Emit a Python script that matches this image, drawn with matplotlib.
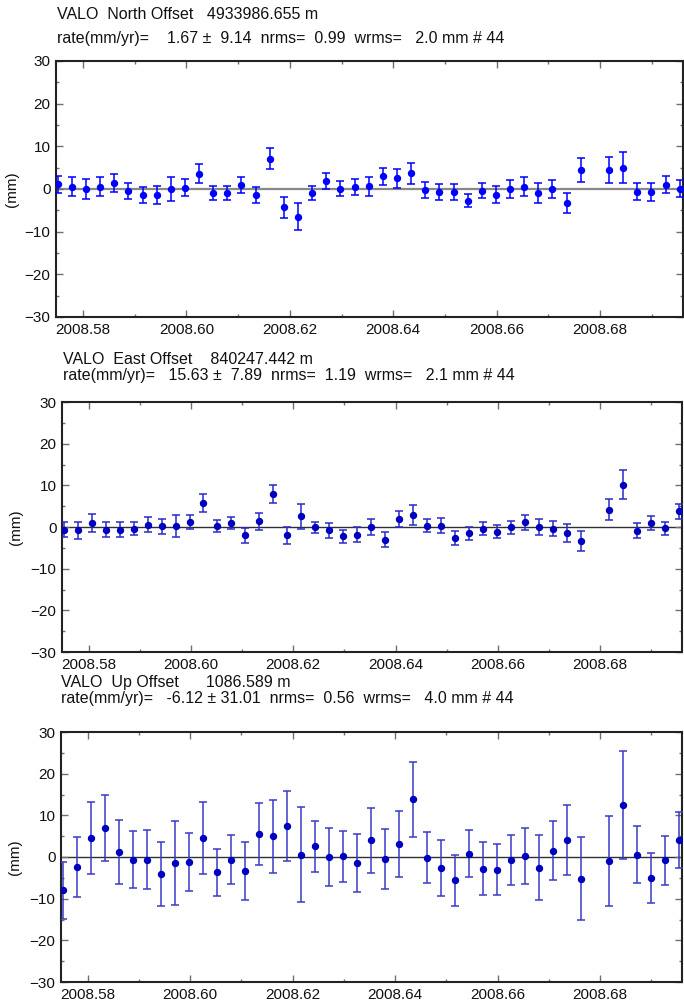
import numpy as np
import matplotlib
matplotlib.use("Agg")
import matplotlib.pyplot as plt
from matplotlib.ticker import MultipleLocator, FormatStrFormatter

plt.rcParams["font.family"] = ["Liberation Sans", "DejaVu Sans"]

# --------------------------------------------------
# DATA
# --------------------------------------------------
# day of year 2008 for each daily solution (day 249 missing)
doy = [211, 212, 213, 214, 215, 216, 217, 218, 219, 220,
       221, 222, 223, 224, 225, 226, 227, 228, 229, 230,
       231, 232, 233, 234, 235, 236, 237, 238, 239, 240,
       241, 242, 243, 244, 245, 246, 247, 248, 250, 251,
       252, 253, 254, 255]

north = [1.1, 0.5, 0.0, 0.5, 1.5, -0.5, -1.4, -1.4, 0.0, 0.3,
         3.6, -0.9, -0.9, 0.9, -1.4, 7.1, -4.3, -6.5, -0.9, 1.8,
         0.1, 0.5, 0.6, 3.0, 2.5, 3.7, -0.2, -0.7, -0.7, -2.7,
         -0.4, -1.3, 0.0, 0.5, -0.9, 0.0, -3.3, 4.4, 4.5, 5.0,
         -0.6, -0.7, 1.0, 0.1]
north_err = [1.95, 2.2, 2.3, 2.2, 2.1, 1.9, 1.95, 2.0, 2.7, 2.0,
             2.3, 1.6, 1.6, 1.95, 1.95, 2.5, 2.4, 3.2, 1.6, 1.9,
             1.8, 1.95, 2.2, 1.95, 2.2, 2.5, 1.8, 1.95, 1.9, 1.6,
             1.8, 1.9, 2.0, 2.2, 2.3, 2.0, 2.4, 2.8, 3.1, 3.7,
             2.0, 2.1, 1.95, 2.0]

east = [-0.6, -0.8, 1.0, -0.6, -0.7, -0.4, 0.6, 0.2, 0.2, 1.2,
        5.7, 0.2, 1.0, -2.0, 1.4, 7.9, -2.0, 2.6, -0.1, -0.8,
        -2.2, -1.8, 0.0, -3.0, 1.9, 3.0, 0.3, 0.3, -2.6, -1.5,
        -0.4, -1.1, -0.1, 1.2, 0.1, -0.4, -1.4, -3.4, 4.2, 10.2,
        -0.9, 0.9, -0.3, 3.8]
east_err = [1.8, 2.1, 2.2, 1.9, 1.8, 1.6, 1.8, 1.8, 2.6, 1.7,
            2.2, 1.4, 1.5, 1.8, 2.0, 2.2, 2.1, 3.0, 1.4, 1.8,
            1.6, 1.75, 1.9, 1.75, 2.0, 2.4, 1.6, 1.8, 1.7, 1.5,
            1.6, 1.6, 1.5, 1.8, 1.9, 1.8, 2.1, 2.4, 2.6, 3.4,
            1.8, 1.7, 1.6, 1.8]

up = [-8.0, -2.5, 4.6, 7.0, 1.2, -0.6, -0.6, -4.1, -1.4, -1.2,
      4.6, -3.7, -0.6, -3.4, 5.6, 5.0, 7.5, 0.6, 2.6, 0.0,
      0.2, -1.5, 4.0, -0.5, 3.1, 13.9, -0.2, -2.6, -5.6, 0.8,
      -2.8, -3.0, -0.6, 0.2, -2.6, 1.5, 4.0, -5.2, -1.0, 12.5,
      0.6, -5.0, -0.8, 4.0]
up_err = [6.9, 7.2, 8.6, 7.9, 7.6, 6.8, 7.1, 7.7, 10.1, 7.0,
          8.6, 5.7, 5.9, 7.0, 7.4, 8.8, 8.4, 11.5, 6.1, 6.9,
          6.1, 7.0, 7.8, 7.2, 8.0, 9.0, 6.1, 6.7, 6.2, 5.7,
          6.4, 6.2, 6.0, 6.7, 7.8, 7.1, 8.4, 10.0, 10.8, 13.0,
          6.8, 6.0, 5.8, 6.7]

titles = [
    "VALO  North Offset   4933986.655 m\n"
    "rate(mm/yr)=    1.67 \u00b1  9.14  nrms=  0.99  wrms=   2.0 mm # 44",
    "VALO  East Offset    840247.442 m\n"
    "rate(mm/yr)=   15.63 \u00b1  7.89  nrms=  1.19  wrms=   2.1 mm # 44",
    "VALO  Up Offset      1086.589 m\n"
    "rate(mm/yr)=   -6.12 \u00b1 31.01  nrms=  0.56  wrms=   4.0 mm # 44",
]

# decimal year (noon of each day, 2008 is a leap year)
t = 2008 + (np.array(doy) - 0.5) / 366.0

# --------------------------------------------------
# LAYOUT (pixel boxes: left, top, right, bottom)
# --------------------------------------------------
W, H = 684, 1001
boxes = [(56, 61, 683, 317), (62, 402, 682, 652), (61, 732, 682, 982)]
title_top = [7, 352, 675]
title_x = [57, 63, 61]
title_ls = [1.75, 1.05, 1.05]
ylabel_x = [19, 23, 22]

panels = [
    (north, north_err, "#0000ff", "#0000ff", "#7070ff", "#888888", 1.6),
    (east, east_err, "#0000c0", "#2a2ac8", "#7a7ad8", "#303030", 1.0),
    (up, up_err, "#0000c0", "#3a3ac8", "#7a7ad8", "#303030", 1.0),
]

fig = plt.figure(figsize=(W / 100, H / 100), dpi=100)

for i, (vals, errs, mcol, ecol, ccol, zcol, zlw) in enumerate(panels):
    l, tp, r, b = boxes[i]
    ax = fig.add_axes([l / W, 1 - b / H, (r - l) / W, (b - tp) / H])

    ax.axhline(0, color=zcol, lw=zlw, zorder=1)
    cont = ax.errorbar(t, vals, yerr=errs, fmt="o", ms=4.3, color=mcol,
                       mec=mcol, ecolor=ecol, elinewidth=1.1, capsize=2.6,
                       capthick=1.1, zorder=3)
    for cap in cont[1]:
        cap.set_color(ccol)

    ax.set_xlim(2008.5748, 2008.6960)
    ax.set_ylim(-30, 30)
    ax.xaxis.set_major_locator(MultipleLocator(0.02))
    ax.xaxis.set_minor_locator(MultipleLocator(0.01))
    ax.xaxis.set_major_formatter(FormatStrFormatter("%.2f"))
    ax.yaxis.set_major_locator(MultipleLocator(10))
    ax.yaxis.set_minor_locator(MultipleLocator(5))

    ax.tick_params(which="both", direction="in", top=True, right=True,
                   color="#707070", labelsize=11, labelcolor="#111111")
    ax.tick_params(which="major", length=5, width=1.0, pad=4)
    ax.tick_params(which="minor", length=2.5, width=1.0)
    for s in ax.spines.values():
        s.set_linewidth(1.5)
        s.set_color("#222222")

    ax.set_ylabel("(mm)", fontsize=11, color="#111111")
    ax.yaxis.set_label_coords((ylabel_x[i] - l) / (r - l), 0.5)

    fig.text(title_x[i] / W, 1 - title_top[i] / H, titles[i],
             fontsize=11.5, color="#111111", ha="left", va="top",
             linespacing=title_ls[i])

fig.savefig("out.png", dpi=100)
